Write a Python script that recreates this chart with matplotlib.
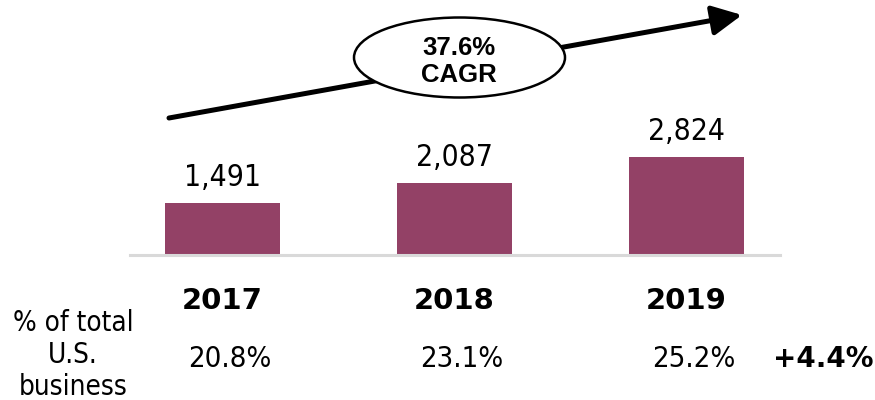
import matplotlib
matplotlib.use("Agg")
import matplotlib.pyplot as plt
from matplotlib.patches import Ellipse, FancyArrowPatch
from matplotlib.transforms import blended_transform_factory, IdentityTransform

years = ["2017", "2018", "2019"]
values = [1491, 2087, 2824]
value_labels = ["1,491", "2,087", "2,824"]
share_labels = ["20.8%", "23.1%", "25.2%"]
share_change = "+4.4%"
cagr_lines = ["37.6%", "CAGR"]
row_label_lines = ["% of total", "U.S.", "business"]

BAR = "#934166"
plt.rcParams['font.family'] = ['DejaVu Sans']
plt.rcParams['font.stretch'] = 'condensed'

W, H = 875, 400
fig = plt.figure(figsize=(W / 100, H / 100), dpi=100)
ax = fig.add_axes([130 / W, (H - 255) / H, 650 / W, 255 / H])
x = list(range(len(years)))
ax.bar(x, values, width=0.496, color=BAR, zorder=2)
ax.set_xlim(-0.399, 2.403)
ax.set_ylim(0, 7350)
for s in ["top", "right", "left"]:
    ax.spines[s].set_visible(False)
ax.spines["bottom"].set_color("#d9d9d9")
ax.spines["bottom"].set_linewidth(2.2)
ax.set_yticks([])
ax.set_xticks([])
ax.patch.set_alpha(0)

for xi, v, lab in zip(x, values, value_labels):
    ax.annotate(lab, (xi, v), xytext=(0, 17), textcoords="offset pixels",
                ha="center", va="baseline", fontsize=21.5, color="#000000")

# x in data coords, y in pixels from bottom
tr = blended_transform_factory(ax.transData, IdentityTransform())
for xi, yr, sh in zip(x, years, share_labels):
    ax.text(xi, H - 309, yr, transform=tr, ha="center", va="baseline",
            fontsize=21, fontweight="bold", fontstretch="normal", clip_on=False)
    ax.text(xi + 0.03, H - 367, sh, transform=tr, ha="center", va="baseline",
            fontsize=21, clip_on=False)

fig.text(823 / W, (H - 367) / H, share_change, ha="center", va="baseline",
         fontsize=20, fontweight="bold", fontstretch="normal")
for line, base in zip(row_label_lines, [331, 363, 395]):
    fig.text(73 / W, (H - base) / H, line, ha="center", va="baseline", fontsize=20)

# CAGR arrow
fig.add_artist(FancyArrowPatch(
    (169, H - 118), (742, H - 15), transform=IdentityTransform(),
    arrowstyle="-|>,head_length=18,head_width=9", linewidth=3.6,
    color="#000000", mutation_scale=1, shrinkA=0, shrinkB=0, zorder=3))
fig.add_artist(Ellipse((459.5, H - 57.5), 211, 80, transform=IdentityTransform(),
                       facecolor="white", edgecolor="#000000", linewidth=1.8, zorder=4))
for line, base in zip(cagr_lines, [55, 82]):
    fig.text(459 / W, (H - base) / H, line, ha="center", va="baseline",
             fontsize=18.5, fontweight="bold", fontstretch="normal",
             family=["Liberation Sans"], zorder=5)

fig.savefig("out.png", dpi=100, facecolor="white")
